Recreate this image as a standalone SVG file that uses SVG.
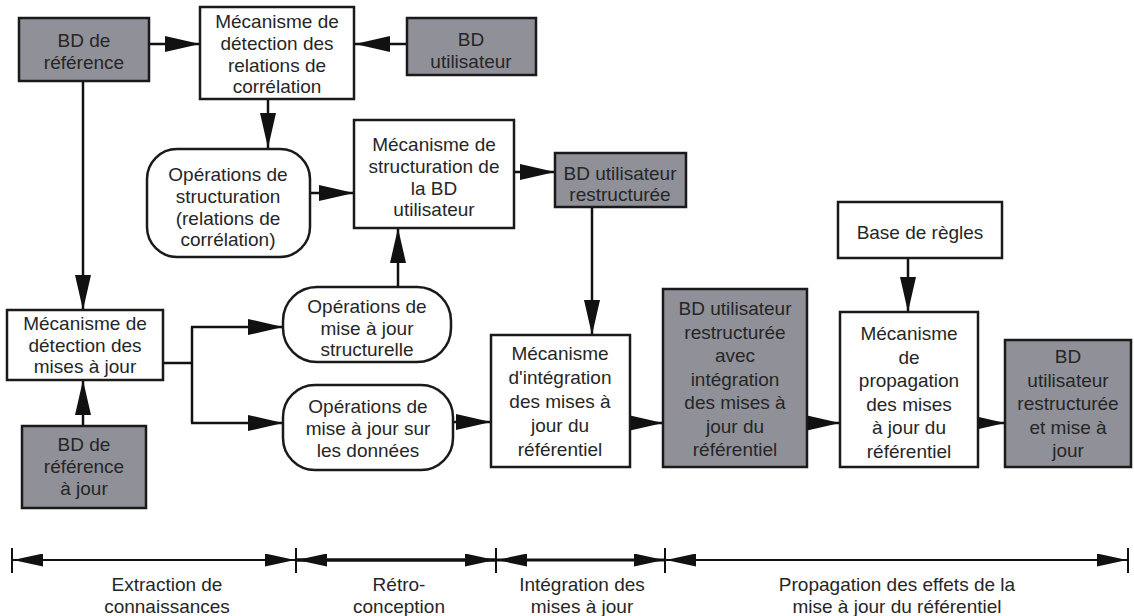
<svg xmlns="http://www.w3.org/2000/svg" width="1134" height="616" viewBox="0 0 1134 616">
<style>
.box{fill:#ffffff;stroke:#1a1a1a;stroke-width:2.5}
.gray{fill:#8f9098;stroke:#1a1a1a;stroke-width:2.5}
.t{font-family:"Liberation Sans",Arial,sans-serif;font-size:19px;fill:#262626;text-anchor:middle}
.c{fill:none;stroke:#111;stroke-width:2.5}
.tl{fill:none;stroke:#111;stroke-width:2.5}
.tick{stroke:#111;stroke-width:2}
</style>
<defs>
<marker id="ah" viewBox="0 0 35 16" refX="35" refY="8" markerWidth="35" markerHeight="16" markerUnits="userSpaceOnUse" orient="auto">
<path d="M0,0 L35,8 L0,16 z" fill="#111"/>
</marker>
<marker id="tah" viewBox="0 0 30 13" refX="30" refY="6.5" markerWidth="30" markerHeight="13" markerUnits="userSpaceOnUse" orient="auto-start-reverse">
<path d="M0,0 L30,6.5 L0,13 z" fill="#111"/>
</marker>
</defs>
<rect width="1134" height="616" fill="#ffffff"/>

<g id="connectors">
<line class="c" x1="149" y1="44" x2="200" y2="44" marker-end="url(#ah)"/>
<line class="c" x1="407" y1="44" x2="355" y2="44" marker-end="url(#ah)"/>
<line class="c" x1="268" y1="99" x2="268" y2="148" marker-end="url(#ah)"/>
<line class="c" x1="310" y1="193" x2="354" y2="193" marker-end="url(#ah)"/>
<line class="c" x1="514" y1="172" x2="555" y2="172" marker-end="url(#ah)"/>
<line class="c" x1="83" y1="81" x2="83" y2="310" marker-end="url(#ah)"/>
<line class="c" x1="83" y1="426" x2="83" y2="380" marker-end="url(#ah)"/>
<polyline class="c" points="163,363 192,363"/>
<line class="c" x1="192" y1="327" x2="192" y2="423"/>
<line class="c" x1="191" y1="327" x2="283" y2="327" marker-end="url(#ah)"/>
<line class="c" x1="191" y1="423" x2="283" y2="423" marker-end="url(#ah)"/>
<line class="c" x1="398" y1="287" x2="398" y2="228" marker-end="url(#ah)"/>
<line class="c" x1="592" y1="207" x2="592" y2="335" marker-end="url(#ah)"/>
<line class="c" x1="453" y1="422" x2="491" y2="422" marker-end="url(#ah)"/>
<line class="c" x1="630" y1="423" x2="663" y2="423" marker-end="url(#ah)"/>
<line class="c" x1="807" y1="423" x2="840" y2="423" marker-end="url(#ah)"/>
<line class="c" x1="908" y1="258" x2="908" y2="312" marker-end="url(#ah)"/>
<line class="c" x1="978" y1="423" x2="1005" y2="423" marker-end="url(#ah)"/>
</g>

<g id="bd-reference">
<rect class="gray" x="19" y="18" width="130" height="63"/>
<text class="t" x="84" y="47">BD de</text>
<text class="t" x="84" y="69">référence</text>
</g>

<g id="mec-detection-relations">
<rect class="box" x="200" y="7" width="154" height="92"/>
<text class="t" x="277" y="28">Mécanisme de</text>
<text class="t" x="277" y="50">détection des</text>
<text class="t" x="277" y="71.5">relations de</text>
<text class="t" x="277" y="93">corrélation</text>
</g>

<g id="bd-utilisateur">
<rect class="gray" x="407" y="18" width="129" height="57"/>
<text class="t" x="471" y="46">BD</text>
<text class="t" x="471" y="68">utilisateur</text>
</g>

<g id="ops-structuration">
<rect class="box" x="147" y="149" width="163" height="108" rx="30" ry="30"/>
<text class="t" x="228" y="181">Opérations de</text>
<text class="t" x="228" y="203">structuration</text>
<text class="t" x="228" y="224.5">(relations de</text>
<text class="t" x="228" y="246">corrélation)</text>
</g>

<g id="mec-structuration">
<rect class="box" x="354" y="120" width="160" height="108"/>
<text class="t" x="434" y="151">Mécanisme de</text>
<text class="t" x="434" y="173">structuration de</text>
<text class="t" x="434" y="194.5">la BD</text>
<text class="t" x="434" y="216">utilisateur</text>
</g>

<g id="bd-util-restructuree">
<rect class="gray" x="555" y="153" width="131" height="54"/>
<text class="t" x="620" y="179.5">BD utilisateur</text>
<text class="t" x="620" y="201">restructurée</text>
</g>

<g id="mec-detection-mises">
<rect class="box" x="7" y="310" width="156" height="70"/>
<text class="t" x="85" y="330">Mécanisme de</text>
<text class="t" x="85" y="351.5">détection des</text>
<text class="t" x="85" y="373">mises à jour</text>
</g>

<g id="bd-reference-a-jour">
<rect class="gray" x="22" y="426" width="124" height="82"/>
<text class="t" x="84" y="451">BD de</text>
<text class="t" x="84" y="473">référence</text>
<text class="t" x="84" y="495">à jour</text>
</g>

<g id="ops-maj-structurelle">
<rect class="box" x="283" y="287" width="168" height="75" rx="34" ry="34"/>
<text class="t" x="367" y="313">Opérations de</text>
<text class="t" x="367" y="334.5">mise à jour</text>
<text class="t" x="367" y="356">structurelle</text>
</g>

<g id="ops-maj-donnees">
<rect class="box" x="283" y="385" width="170" height="85" rx="32" ry="32"/>
<text class="t" x="368" y="413">Opérations de</text>
<text class="t" x="368" y="435">mise à jour sur</text>
<text class="t" x="368" y="457">les données</text>
</g>

<g id="mec-integration">
<rect class="box" x="491" y="335" width="139" height="132"/>
<text class="t" x="560" y="360">Mécanisme</text>
<text class="t" x="560" y="384">d'intégration</text>
<text class="t" x="560" y="408">des mises à</text>
<text class="t" x="560" y="432">jour du</text>
<text class="t" x="560" y="456">référentiel</text>
</g>

<g id="bd-util-restr-integration">
<rect class="gray" x="663" y="289" width="144" height="178"/>
<text class="t" x="735" y="315">BD utilisateur</text>
<text class="t" x="735" y="338.5">restructurée</text>
<text class="t" x="735" y="362">avec</text>
<text class="t" x="735" y="385.5">intégration</text>
<text class="t" x="735" y="409">des mises à</text>
<text class="t" x="735" y="432.5">jour du</text>
<text class="t" x="735" y="456">référentiel</text>
</g>

<g id="base-regles">
<rect class="box" x="838" y="202" width="164" height="56"/>
<text class="t" x="920" y="239">Base de règles</text>
</g>

<g id="mec-propagation">
<rect class="box" x="840" y="312" width="138" height="155"/>
<text class="t" x="909" y="340">Mécanisme</text>
<text class="t" x="909" y="363.5">de</text>
<text class="t" x="909" y="387">propagation</text>
<text class="t" x="909" y="410.5">des mises</text>
<text class="t" x="909" y="434">à jour du</text>
<text class="t" x="909" y="457.5">référentiel</text>
</g>

<g id="bd-util-restr-maj">
<rect class="gray" x="1005" y="340" width="126" height="127"/>
<text class="t" x="1068" y="363">BD</text>
<text class="t" x="1068" y="386.5">utilisateur</text>
<text class="t" x="1068" y="410">restructurée</text>
<text class="t" x="1068" y="433.5">et mise à</text>
<text class="t" x="1068" y="457">jour</text>
</g>

<g id="timeline">
<line class="tick" x1="12" y1="548" x2="12" y2="573"/>
<line class="tick" x1="296" y1="548" x2="296" y2="573"/>
<line class="tick" x1="496" y1="548" x2="496" y2="573"/>
<line class="tick" x1="665" y1="548" x2="665" y2="573"/>
<line class="tick" x1="1128" y1="548" x2="1128" y2="573"/>
<line class="tl" x1="13" y1="560" x2="295" y2="560" style="stroke-width:2" marker-start="url(#tah)" marker-end="url(#tah)"/>
<line class="tl" x1="297" y1="560" x2="495" y2="560" style="stroke-width:3.5" marker-start="url(#tah)" marker-end="url(#tah)"/>
<line class="tl" x1="497" y1="560" x2="664" y2="560" style="stroke-width:3" marker-start="url(#tah)" marker-end="url(#tah)"/>
<line class="tl" x1="666" y1="560" x2="1127" y2="560" style="stroke-width:2" marker-start="url(#tah)" marker-end="url(#tah)"/>
<text class="t" x="167" y="591">Extraction de</text>
<text class="t" x="167" y="612.5">connaissances</text>
<text class="t" x="399" y="591">Rétro-</text>
<text class="t" x="399" y="612.5">conception</text>
<text class="t" x="582" y="591">Intégration des</text>
<text class="t" x="582" y="612.5">mises à jour</text>
<text class="t" x="897" y="591">Propagation des effets de la</text>
<text class="t" x="897" y="612.5">mise à jour du référentiel</text>
</g>
</svg>
